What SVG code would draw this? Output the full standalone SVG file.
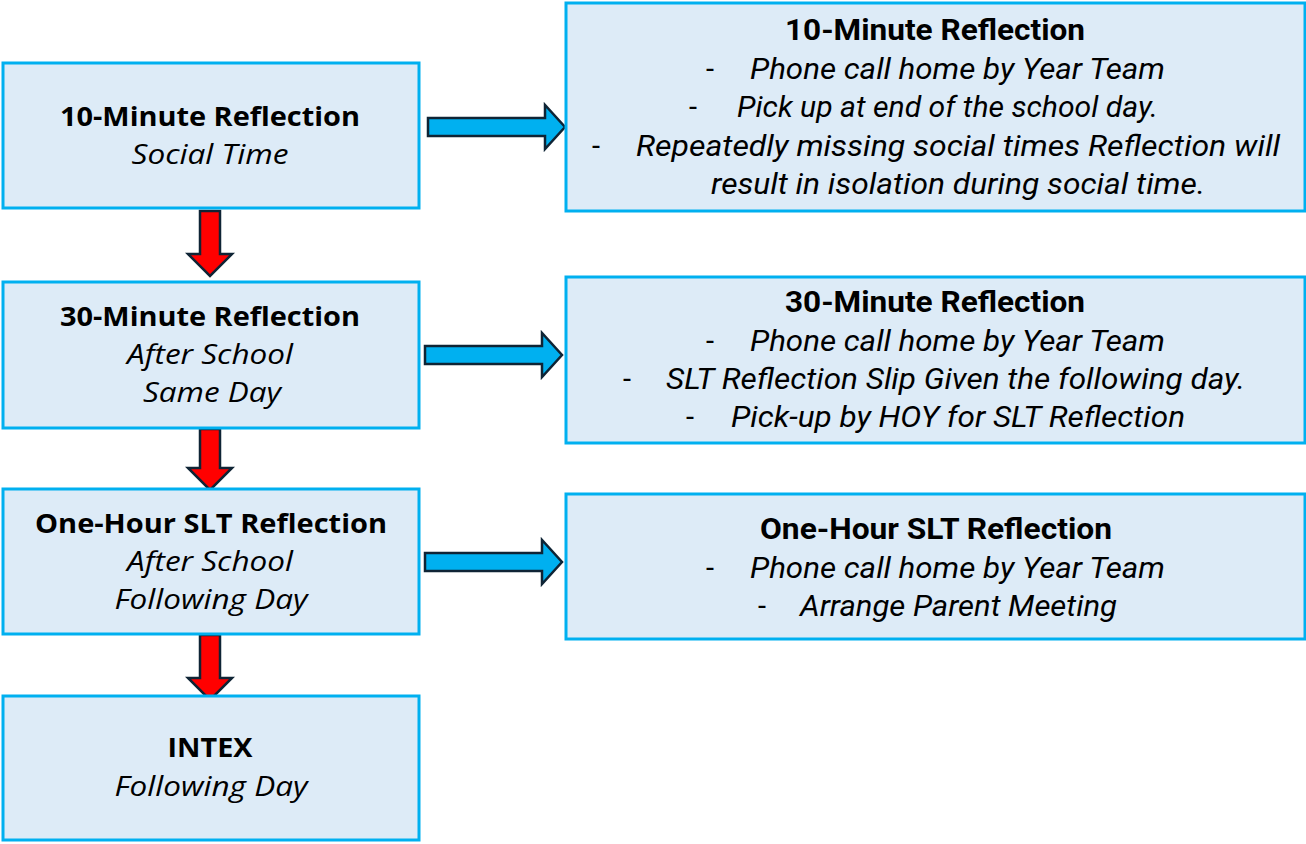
<svg xmlns="http://www.w3.org/2000/svg" width="1306" height="844" viewBox="0 0 1306 844">
<style>
.box{fill:#DDEBF7;stroke:#00B0F0;stroke-width:3}
.ba{fill:#00B0F0;stroke:#0F2435;stroke-width:2.5;stroke-linejoin:miter}
.ra{fill:#FF0000;stroke:#0F2435;stroke-width:2.5;stroke-linejoin:miter}
text{font-family:"Open Sans","Liberation Sans",sans-serif;font-size:27px;fill:#000}
.b{font-weight:bold}
.i{font-style:italic}
.c{text-anchor:middle}
.n{font-family:"Roboto","Liberation Sans",sans-serif;font-size:29px}
</style>
<rect width="1306" height="844" fill="#fff"/>
<g id="connectors">
<path class="ba" d="M428,118 H545 V105 L565,127 L545,149 V136 H428 Z"/>
<path class="ba" d="M425,346 H542 V333 L562,355 L542,377 V364 H425 Z"/>
<path class="ba" d="M425,553 H542 V540 L562,562 L542,584 V571 H425 Z"/>
<path class="ra" d="M200,211 H220 V254 H232 L210,276 L188,254 H200 Z"/>
<path class="ra" d="M200,429 H220 V468 H232 L210,490 L188,468 H200 Z"/>
<path class="ra" d="M200,635 H220 V678 H232 L210,700 L188,678 H200 Z"/>
</g>
<g id="n1">
<rect class="box" x="3" y="63" width="416" height="145"/>
<text class="b c" x="210" y="126" textLength="300" lengthAdjust="spacingAndGlyphs">10-Minute Reflection</text>
<text class="i c" x="210" y="164" textLength="157" lengthAdjust="spacingAndGlyphs">Social Time</text>
</g>
<g id="n2">
<rect class="box" x="3" y="282" width="416" height="146"/>
<text class="b c" x="210" y="326" textLength="300" lengthAdjust="spacingAndGlyphs">30-Minute Reflection</text>
<text class="i c" x="210" y="364" textLength="166" lengthAdjust="spacingAndGlyphs">After School</text>
<text class="i c" x="212" y="402" textLength="138" lengthAdjust="spacingAndGlyphs">Same Day</text>
</g>
<g id="n3">
<rect class="box" x="3" y="489" width="416" height="145"/>
<text class="b c" x="211" y="533" textLength="352" lengthAdjust="spacingAndGlyphs">One-Hour SLT Reflection</text>
<text class="i c" x="210" y="571" textLength="166" lengthAdjust="spacingAndGlyphs">After School</text>
<text class="i c" x="211" y="609" textLength="193" lengthAdjust="spacingAndGlyphs">Following Day</text>
</g>
<g id="n4">
<rect class="box" x="3" y="696" width="416" height="144"/>
<text class="b c" x="210" y="757" textLength="85" lengthAdjust="spacingAndGlyphs">INTEX</text>
<text class="i c" x="211" y="796" textLength="193" lengthAdjust="spacingAndGlyphs">Following Day</text>
</g>
<g id="r1">
<rect class="box" x="566" y="3" width="739" height="208"/>
<text class="n b c" x="935" y="40" textLength="300" lengthAdjust="spacingAndGlyphs">10-Minute Reflection</text>
<text class="n" x="706" y="79">-</text>
<text class="n i" x="750" y="79" textLength="415" lengthAdjust="spacingAndGlyphs">Phone call home by Year Team</text>
<text class="n" x="689" y="117">-</text>
<text class="n i" x="737" y="117" textLength="421" lengthAdjust="spacingAndGlyphs">Pick up at end of the school day.</text>
<text class="n" x="592" y="156">-</text>
<text class="n i" x="636" y="156" textLength="644" lengthAdjust="spacingAndGlyphs">Repeatedly missing social times Reflection will</text>
<text class="n i" x="711" y="194" textLength="494" lengthAdjust="spacingAndGlyphs">result in isolation during social time.</text>
</g>
<g id="r2">
<rect class="box" x="566" y="277" width="739" height="166"/>
<text class="n b c" x="935" y="312" textLength="300" lengthAdjust="spacingAndGlyphs">30-Minute Reflection</text>
<text class="n" x="706" y="351">-</text>
<text class="n i" x="750" y="351" textLength="415" lengthAdjust="spacingAndGlyphs">Phone call home by Year Team</text>
<text class="n" x="623" y="389">-</text>
<text class="n i" x="666" y="389" textLength="579" lengthAdjust="spacingAndGlyphs">SLT Reflection Slip Given the following day.</text>
<text class="n" x="686" y="427">-</text>
<text class="n i" x="731" y="427" textLength="454" lengthAdjust="spacingAndGlyphs">Pick-up by HOY for SLT Reflection</text>
</g>
<g id="r3">
<rect class="box" x="566" y="494" width="739" height="145"/>
<text class="n b c" x="936" y="539" textLength="352" lengthAdjust="spacingAndGlyphs">One-Hour SLT Reflection</text>
<text class="n" x="706" y="578">-</text>
<text class="n i" x="750" y="578" textLength="415" lengthAdjust="spacingAndGlyphs">Phone call home by Year Team</text>
<text class="n" x="758" y="616">-</text>
<text class="n i" x="800" y="616" textLength="317" lengthAdjust="spacingAndGlyphs">Arrange Parent Meeting</text>
</g>
</svg>
